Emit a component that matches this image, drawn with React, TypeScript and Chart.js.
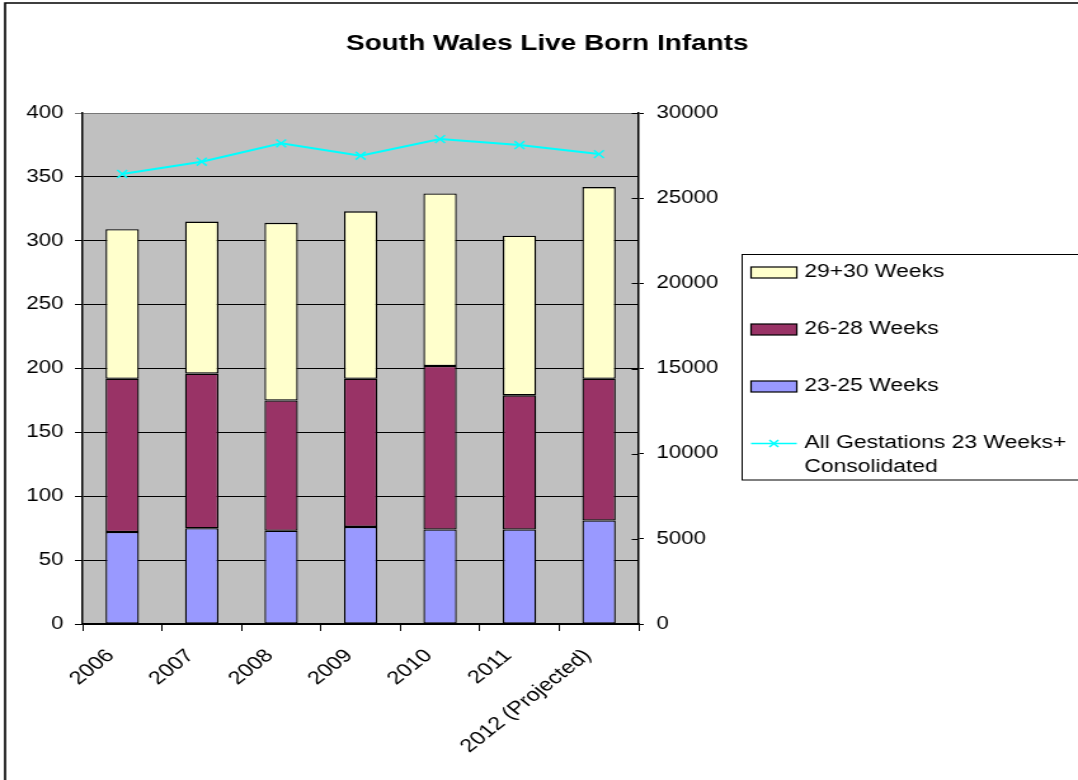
import React, { useEffect, useRef } from 'react';
import { Chart, registerables } from 'chart.js';

Chart.register(...registerables);

// ---- data ----
const years = ['2006', '2007', '2008', '2009', '2010', '2011', '2012 (Projected)'];
const weeks23to25 = [72, 75, 73, 76, 74, 74, 81];
const weeks26to28 = [120, 121, 102, 116, 128, 105, 111];
const weeks29to30 = [117, 119, 139, 131, 135, 125, 150];
const allGestations = [26420, 27140, 28220, 27490, 28470, 28120, 27590];

const leftAxisMax = 400;
const leftAxisStep = 50;
const rightAxisMax = 30000;
const rightAxisStep = 5000;

const titleText = 'South Wales Live Born Infants';
const legendLabels = [
  ['29+30 Weeks'],
  ['26-28 Weeks'],
  ['23-25 Weeks'],
  ['All Gestations 23 Weeks+', 'Consolidated'],
];

// canvas is drawn narrower and stretched horizontally (like the original picture)
const CSS_W = 1078;
const CSS_H = 780;
const INNER_W = 849;
const FONT = "'Liberation Sans', Arial, sans-serif";

const C_2325 = '#9999FF';
const C_2628 = '#993366';
const C_2930 = '#FFFFCC';
const C_LINE = '#00FFFF';

const backgroundPlugin = {
  id: 'plotBg',
  beforeDraw(chart: any) {
    const { ctx, chartArea } = chart;
    ctx.save();
    ctx.fillStyle = '#ffffff';
    ctx.fillRect(0, 0, chart.width, chart.height);
    ctx.fillStyle = '#C0C0C0';
    ctx.fillRect(chartArea.left, chartArea.top, chartArea.right - chartArea.left, chartArea.bottom - chartArea.top);
    ctx.restore();
  },
};

const decorPlugin = {
  id: 'decor',
  afterDraw(chart: any) {
    const { ctx, chartArea } = chart;
    ctx.save();
    // cross ticks of the right axis (inner part)
    const s = chart.scales.y1;
    ctx.strokeStyle = '#000';
    ctx.lineWidth = 1;
    for (const t of s.ticks) {
      const y = Math.round(s.getPixelForValue(t.value)) + 0.5;
      ctx.beginPath();
      ctx.moveTo(chartArea.right - 5.5, y);
      ctx.lineTo(chartArea.right, y);
      ctx.stroke();
    }

    // outer chart border
    ctx.lineWidth = 1.6;
    ctx.beginPath();
    ctx.moveTo(4, chart.height + 5);
    ctx.lineTo(4, 3);
    ctx.lineTo(chart.width + 5, 3);
    ctx.stroke();

    // legend
    const lx = 584.5;
    const ly = 254.5;
    ctx.lineWidth = 1;
    ctx.strokeStyle = '#000';
    ctx.strokeRect(lx, ly, 400, 225.5);
    const fills = [C_2930, C_2628, C_2325];
    const rowY = [272.5, 329.5, 386.5, 443.5];
    ctx.font = `18px ${FONT}`;
    ctx.textBaseline = 'middle';
    ctx.textAlign = 'left';
    for (let i = 0; i < legendLabels.length; i++) {
      const cy = rowY[i];
      if (i < 3) {
        ctx.fillStyle = fills[i];
        ctx.fillRect(591.5, cy - 5.5, 36, 11);
        ctx.strokeStyle = '#000';
        ctx.lineWidth = 1.2;
        ctx.strokeRect(591.5, cy - 5.5, 36, 11);
      } else {
        ctx.strokeStyle = C_LINE;
        ctx.lineWidth = 1.5;
        ctx.beginPath();
        ctx.moveTo(591.5, cy);
        ctx.lineTo(627.5, cy);
        ctx.stroke();
        const cx = 609.5;
        const r = 3.5;
        ctx.beginPath();
        ctx.moveTo(cx - r, cy - r);
        ctx.lineTo(cx + r, cy + r);
        ctx.moveTo(cx - r, cy + r);
        ctx.lineTo(cx + r, cy - r);
        ctx.stroke();
      }
      ctx.fillStyle = '#000';
      legendLabels[i].forEach((line, k) => {
        ctx.fillText(line, 633.5, cy + k * 24);
      });
    }
    ctx.restore();
  },
};

export default function App() {
  const canvasRef = useRef<HTMLCanvasElement | null>(null);

  useEffect(() => {
    const canvas = canvasRef.current;
    if (!canvas) return;
    Chart.defaults.font.family = FONT;
    const chart = new Chart(canvas, {
      type: 'bar',
      data: {
        labels: years,
        datasets: [
          {
            type: 'line',
            label: legendLabels[3].join(' '),
            data: allGestations,
            yAxisID: 'y1',
            borderColor: C_LINE,
            backgroundColor: C_LINE,
            borderWidth: 2,
            pointStyle: 'crossRot',
            pointRadius: 5.5,
            pointBorderColor: C_LINE,
            pointBorderWidth: 1.5,
            tension: 0,
            order: 0,
          } as any,
          {
            type: 'bar',
            label: legendLabels[2][0],
            data: weeks23to25,
            backgroundColor: C_2325,
            borderColor: '#000',
            borderWidth: 1.3,
            borderSkipped: false,
            yAxisID: 'y',
            stack: 's',
            order: 1,
          },
          {
            type: 'bar',
            label: legendLabels[1][0],
            data: weeks26to28,
            backgroundColor: C_2628,
            borderColor: '#000',
            borderWidth: 1.3,
            borderSkipped: false,
            yAxisID: 'y',
            stack: 's',
            order: 1,
          },
          {
            type: 'bar',
            label: legendLabels[0][0],
            data: weeks29to30,
            backgroundColor: C_2930,
            borderColor: '#000',
            borderWidth: 1.3,
            borderSkipped: false,
            yAxisID: 'y',
            stack: 's',
            order: 1,
          },
        ],
      },
      options: {
        responsive: false,
        maintainAspectRatio: false,
        devicePixelRatio: 1,
        animation: false,
        layout: { padding: { left: 13, right: 0, top: 0, bottom: 0 } },
        datasets: {
          bar: { categoryPercentage: 1, barPercentage: 0.42 },
        },
        plugins: {
          legend: { display: false },
          tooltip: { enabled: false },
          title: {
            display: true,
            text: titleText,
            color: '#000',
            font: { family: FONT, size: 22, weight: 'bold' },
            padding: { top: 31, bottom: 55.6 },
          },
        },
        scales: {
          x: {
            type: 'category',
            stacked: true,
            offset: true,
            grid: {
              offset: true,
              drawOnChartArea: false,
              drawTicks: true,
              tickLength: 7,
              color: '#000',
            },
            border: { display: true, color: '#000', width: 1.5 },
            ticks: {
              autoSkip: false,
              minRotation: 45,
              maxRotation: 45,
              padding: 14,
              labelOffset: -9,
              color: '#000',
              font: { family: FONT, size: 18.5 },
            },
            afterFit(scale: any) {
              scale.height = CSS_H - 624;
            },
          },
          y: {
            type: 'linear',
            position: 'left',
            stacked: true,
            min: 0,
            max: leftAxisMax,
            ticks: {
              stepSize: leftAxisStep,
              padding: 9,
              color: '#000',
              font: { family: FONT, size: 17.5 },
            },
            grid: {
              drawTicks: true,
              tickLength: 6,
              color: (c: any) => (c.tick && c.tick.value === leftAxisMax ? '#777777' : '#000000'),
              lineWidth: 1,
            },
            border: { display: true, color: '#000', width: 1.5 },
            afterFit(scale: any) {
              scale.width = 52;
            },
          },
          y1: {
            type: 'linear',
            position: 'right',
            min: 0,
            max: rightAxisMax,
            ticks: {
              stepSize: rightAxisStep,
              padding: 10,
              color: '#000',
              font: { family: FONT, size: 17.5 },
              callback: (v: any) => String(v),
            },
            grid: {
              drawOnChartArea: false,
              drawTicks: true,
              tickLength: 4,
              color: '#000',
            },
            border: { display: true, color: '#000', width: 1.5 },
            afterFit(scale: any) {
              scale.width = INNER_W - 503;
            },
          },
        },
      },
      plugins: [backgroundPlugin, decorPlugin],
    } as any);
    return () => chart.destroy();
  }, []);

  return (
    <div
      style={{
        position: 'fixed',
        left: 0,
        top: 0,
        width: CSS_W,
        height: CSS_H,
        overflow: 'hidden',
        background: '#fff',
      }}
    >
      <canvas
        ref={canvasRef}
        width={INNER_W}
        height={CSS_H}
        style={{ width: `${CSS_W}px`, height: `${CSS_H}px`, display: 'block' }}
      />
    </div>
  );
}
